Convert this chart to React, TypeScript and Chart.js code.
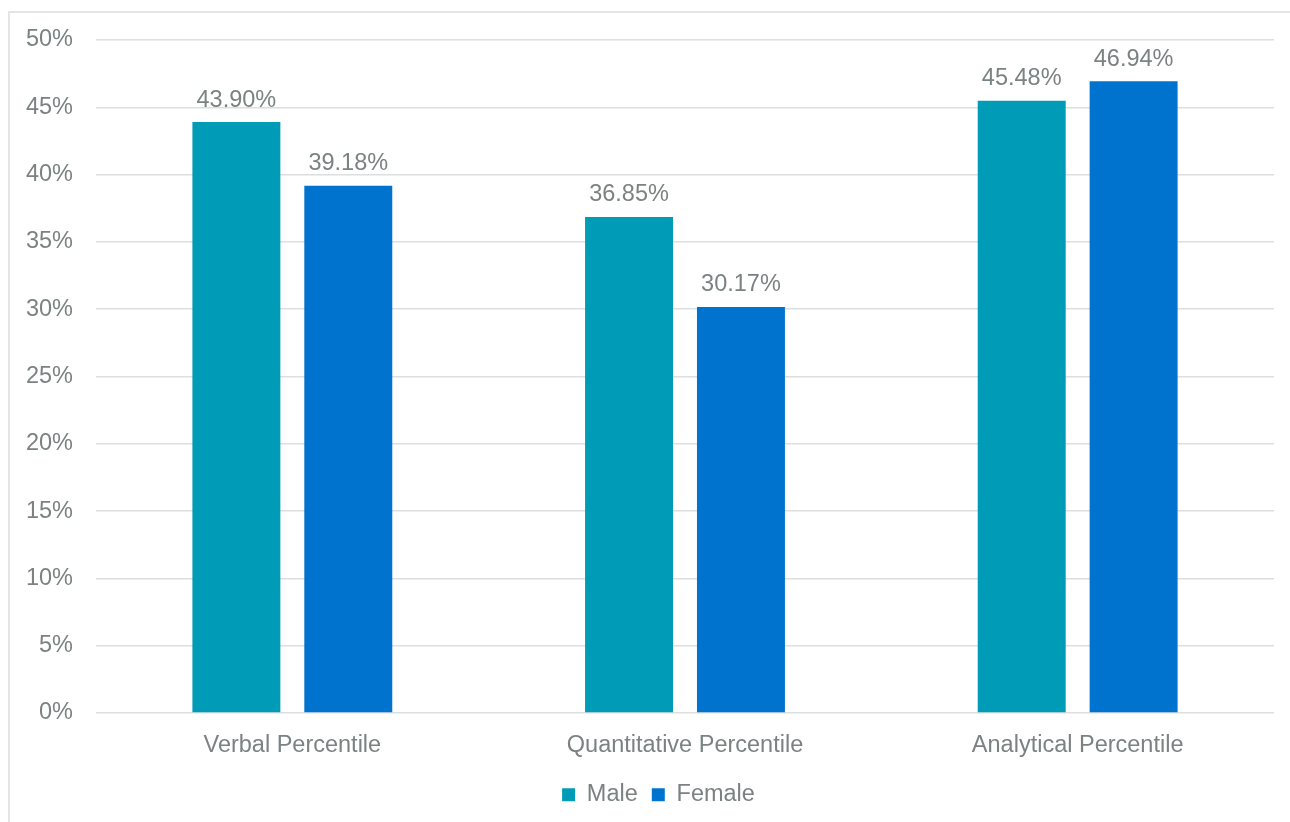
import React, { useEffect, useRef } from "react";
import { Chart, registerables } from "chart.js";

Chart.register(...registerables);

const categories = ["Verbal Percentile", "Quantitative Percentile", "Analytical Percentile"];
const maleValues = [43.9, 36.85, 45.48];
const femaleValues = [39.18, 30.17, 46.94];
const seriesNames = ["Male", "Female"];
const yTicks = [0, 5, 10, 15, 20, 25, 30, 35, 40, 45, 50];

const FONT = "'Liberation Sans', Arial, sans-serif";
const FS = 23.5;
const TEXT = "#7b8282";
const MALE = "#009CB7";
const FEMALE = "#0073CF";

const dataLabelPlugin = {
  id: "dataLabels",
  afterDatasetsDraw(chart: any) {
    const ctx = chart.ctx;
    ctx.save();
    ctx.font = `${FS}px ${FONT}`;
    ctx.fillStyle = TEXT;
    ctx.textAlign = "center";
    ctx.textBaseline = "alphabetic";
    chart.data.datasets.forEach((ds: any, di: number) => {
      const meta = chart.getDatasetMeta(di);
      meta.data.forEach((bar: any, i: number) => {
        const v = ds.data[i] as number;
        ctx.fillText(v.toFixed(2) + "%", bar.x, bar.y - 15.5);
      });
    });
    ctx.restore();
  },
};

const legendShiftPlugin = {
  id: "legendShift",
  afterLayout(chart: any) {
    if (chart.legend) {
      chart.legend.left += 11.5;
      chart.legend.right += 11.5;
    }
  },
};

export default function App() {
  const ref = useRef<HTMLCanvasElement | null>(null);
  useEffect(() => {
    if (!ref.current) return;
    const chart = new Chart(ref.current, {
      type: "bar",
      data: {
        labels: categories,
        datasets: [
          {
            label: seriesNames[0],
            data: maleValues,
            backgroundColor: MALE,
            categoryPercentage: 0.57,
            barPercentage: 0.786,
          },
          {
            label: seriesNames[1],
            data: femaleValues,
            backgroundColor: FEMALE,
            categoryPercentage: 0.57,
            barPercentage: 0.786,
          },
        ],
      },
      options: {
        responsive: false,
        animation: false,
        layout: { padding: { left: 20, right: 36, top: 40, bottom: 5.5 } },
        plugins: {
          legend: {
            position: "bottom",
            labels: {
              boxWidth: 13,
              boxHeight: 13,
              padding: 14,
              color: TEXT,
              font: { family: FONT, size: FS },
            },
          },
          tooltip: { enabled: false },
        },
        scales: {
          x: {
            grid: { display: false },
            border: { display: false },
            ticks: {
              color: TEXT,
              font: { family: FONT, size: FS },
              padding: 10.4,
              maxRotation: 0,
            },
            afterFit: (scale: any) => {
              scale.height = 56;
            },
          },
          y: {
            min: 0,
            max: 50,
            afterBuildTicks: (scale: any) => {
              scale.ticks = yTicks.map((v) => ({ value: v }));
            },
            grid: { color: "#dcdfdf", lineWidth: 1.5, drawTicks: false },
            border: { display: false },
            ticks: {
              color: TEXT,
              font: { family: FONT, size: FS },
              padding: 23,
              callback: (v: any) => `${v}%`,
            },
            afterFit: (scale: any) => {
              scale.width = 76;
            },
          },
        },
      },
      plugins: [dataLabelPlugin, legendShiftPlugin],
    });
    return () => chart.destroy();
  }, []);

  return (
    <div
      style={{
        position: "fixed",
        left: 0,
        top: 0,
        width: 1290,
        height: 822,
        overflow: "hidden",
        background: "#ffffff",
      }}
    >
      <div
        style={{
          position: "absolute",
          left: 8,
          top: 11,
          width: 1310,
          height: 830,
          border: "2px solid #e3e6e6",
          boxSizing: "border-box",
        }}
      />
      <canvas
        ref={ref}
        width={1310}
        height={822}
        style={{ position: "absolute", left: 0, top: 0, width: 1310, height: 822 }}
      />
    </div>
  );
}
